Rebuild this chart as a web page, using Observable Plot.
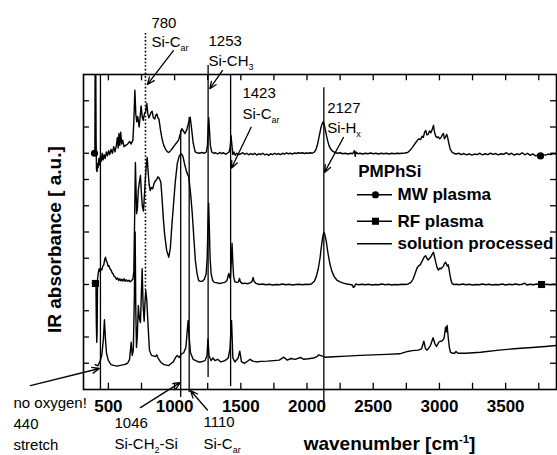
<!DOCTYPE html>
<html><head><meta charset="utf-8">
<script src="https://cdn.jsdelivr.net/npm/d3@7"></script>
<script src="https://cdn.jsdelivr.net/npm/@observablehq/plot@0.6"></script>
<style>body{margin:0;background:#fff}#chart svg{display:block}</style>
</head><body><div id="chart"></div>
<script>
// ---- data: [wavenumber (cm^-1), absorbance (a.u., offset)] ----
const mwPlasma = [[380,9.0],[395,9.0],[398,9.05],[400,12.8],[404,13.2],[407,9.6],[410,8.4],[414,8.3],[418,8.6],[422,8.45],[428,8.8],[434,8.55],[440,8.9],[447,8.7],[453,9.0],[460,8.75],[468,8.95],[476,8.8],[485,9.05],[493,8.9],[502,9.1],[510,8.95],[520,9.15],[530,9.0],[540,9.25],[550,9.05],[560,9.3],[568,9.6],[574,9.2],[580,9.75],[586,9.3],[593,9.8],[600,9.35],[608,9.5],[618,9.25],[630,9.3],[645,9.35],[660,9.45],[672,9.35],[685,9.5],[692,10.2],[700,11.4],[707,10.5],[714,10.2],[722,10.4],[732,10.0],[740,10.4],[747,10.8],[755,10.4],[763,10.25],[772,10.5],[782,10.6],[790,10.9],[798,10.5],[806,10.35],[814,10.45],[822,10.55],[830,10.6],[840,10.35],[850,10.3],[858,10.45],[866,10.5],[874,10.35],[882,10.3],[893,9.9],[905,9.55],[918,9.3],[932,9.15],[946,9.05],[956,9.03],[970,9.1],[985,9.2],[1000,9.3],[1015,9.4],[1030,9.5],[1044,9.75],[1055,9.94],[1066,9.85],[1078,9.75],[1092,9.9],[1105,10.15],[1118,10.37],[1128,9.95],[1140,9.4],[1155,9.05],[1170,9.02],[1185,9.0],[1205,9.03],[1225,9.0],[1240,9.05],[1248,9.3],[1254,10.0],[1258,10.35],[1263,9.9],[1270,9.3],[1280,9.05],[1295,9.0],[1310,9.02],[1325,8.97],[1340,9.03],[1355,8.99],[1370,9.02],[1385,8.96],[1400,9.01],[1412,9.05],[1420,9.25],[1426,9.68],[1432,9.35],[1440,8.95],[1448,9.05],[1458,8.92],[1470,9.0],[1485,8.95],[1500,8.98],[1515,9.02],[1530,8.96],[1545,9.0],[1560,8.94],[1575,8.99],[1590,8.95],[1605,9.0],[1620,8.93],[1635,8.98],[1650,8.95],[1665,9.0],[1680,8.94],[1695,8.97],[1710,8.92],[1725,8.98],[1740,8.95],[1755,9.0],[1770,8.96],[1785,8.99],[1800,8.95],[1815,9.0],[1830,8.97],[1845,9.01],[1860,8.98],[1875,9.0],[1890,8.97],[1905,9.01],[1920,8.99],[1935,9.02],[1950,9.0],[1965,9.02],[1980,8.99],[1995,9.01],[2010,9.0],[2025,9.02],[2040,9.0],[2055,9.04],[2068,9.15],[2080,9.35],[2092,9.65],[2104,9.95],[2114,10.12],[2122,10.2],[2130,10.1],[2140,9.85],[2152,9.55],[2165,9.3],[2180,9.15],[2195,9.07],[2210,9.03],[2230,9.0],[2250,9.02],[2270,8.98],[2290,9.0],[2310,8.97],[2330,9.0],[2345,8.98],[2358,9.1],[2364,8.88],[2370,9.05],[2385,8.98],[2400,9.0],[2420,8.97],[2440,9.0],[2460,8.98],[2480,9.01],[2500,8.98],[2520,9.0],[2540,8.97],[2560,9.0],[2580,8.98],[2600,9.0],[2620,8.97],[2640,9.0],[2660,8.98],[2680,9.0],[2700,8.99],[2720,9.0],[2740,9.01],[2760,9.03],[2780,9.12],[2800,9.25],[2820,9.4],[2835,9.5],[2845,9.55],[2858,9.52],[2868,9.65],[2878,9.6],[2888,9.8],[2897,9.87],[2905,9.7],[2915,9.72],[2925,9.85],[2935,9.78],[2945,9.9],[2955,10.06],[2963,9.8],[2972,9.65],[2982,9.6],[2992,9.62],[3002,9.55],[3012,9.6],[3022,9.7],[3030,9.75],[3038,9.55],[3046,9.62],[3055,9.72],[3062,9.6],[3072,9.35],[3082,9.15],[3095,9.04],[3107,9.0],[3125,8.97],[3145,9.0],[3165,8.95],[3185,8.99],[3205,8.94],[3225,8.98],[3245,8.93],[3265,8.97],[3285,8.95],[3305,9.0],[3325,8.94],[3345,8.98],[3365,8.95],[3385,9.0],[3405,8.96],[3425,8.99],[3445,8.94],[3465,8.98],[3485,8.96],[3505,9.02],[3525,8.95],[3545,9.0],[3565,8.93],[3585,8.98],[3605,8.95],[3625,9.02],[3645,8.94],[3665,9.0],[3685,8.92],[3705,8.98],[3725,8.9],[3745,8.93],[3763,8.9],[3780,8.95],[3800,8.93],[3820,8.97],[3840,8.95],[3860,8.99],[3885,8.97]];

const rfPlasma = [[380,4.05],[390,4.02],[397,4.06],[402,4.04],[406,4.1],[409,2.5],[412,1.8],[415,2.2],[418,4.2],[424,4.45],[430,4.6],[436,4.5],[442,4.6],[450,4.55],[458,4.7],[465,4.75],[472,4.95],[478,5.04],[484,4.9],[490,4.85],[497,4.7],[504,4.72],[512,4.6],[520,4.55],[528,4.45],[536,4.4],[545,4.3],[553,4.28],[561,4.2],[570,4.25],[578,4.15],[586,4.22],[594,4.14],[602,4.2],[610,4.13],[618,4.22],[626,4.12],[635,4.18],[645,4.12],[655,4.16],[665,4.1],[675,4.15],[685,4.2],[692,4.5],[698,6.5],[704,8.65],[709,7.6],[713,6.7],[719,6.9],[726,7.6],[734,7.9],[742,8.15],[749,7.5],[756,7.0],[765,6.8],[772,7.4],[780,8.1],[787,8.6],[793,8.84],[800,8.3],[808,7.8],[816,7.58],[825,7.7],[835,7.65],[845,7.85],[855,7.95],[865,8.0],[873,8.1],[880,8.08],[888,8.0],[896,7.9],[905,7.3],[915,6.5],[925,5.9],[940,5.3],[956,5.04],[968,5.4],[980,6.3],[994,7.2],[1005,7.9],[1020,8.6],[1035,8.9],[1050,8.98],[1062,8.9],[1075,8.6],[1090,8.3],[1107,8.09],[1120,7.5],[1132,6.8],[1145,5.8],[1157,4.9],[1170,4.4],[1182,4.15],[1195,4.12],[1210,4.12],[1225,4.2],[1238,4.4],[1246,5.0],[1252,6.3],[1257,7.1],[1262,6.2],[1268,5.0],[1276,4.4],[1288,4.15],[1300,4.08],[1320,4.06],[1340,4.04],[1360,4.06],[1380,4.08],[1395,4.15],[1405,4.35],[1410,4.42],[1416,4.25],[1422,4.3],[1428,4.9],[1434,5.56],[1440,4.8],[1446,4.3],[1455,4.1],[1470,4.08],[1482,4.1],[1490,4.23],[1497,4.1],[1510,4.04],[1530,4.05],[1550,4.03],[1570,4.06],[1585,4.12],[1593,4.27],[1600,4.12],[1615,4.04],[1640,4.0],[1665,4.02],[1690,3.99],[1715,4.01],[1740,3.98],[1765,4.0],[1790,3.99],[1815,4.02],[1840,3.99],[1865,4.01],[1890,3.98],[1915,4.0],[1940,4.01],[1965,3.99],[1990,4.01],[2015,4.0],[2035,4.03],[2055,4.12],[2070,4.3],[2085,4.6],[2098,5.0],[2110,5.5],[2120,5.85],[2127,5.99],[2135,5.9],[2145,5.65],[2158,5.2],[2172,4.8],[2188,4.5],[2205,4.3],[2225,4.17],[2250,4.1],[2275,4.05],[2300,4.02],[2325,4.0],[2342,3.98],[2350,3.89],[2358,3.92],[2368,4.02],[2390,3.99],[2415,4.01],[2440,3.99],[2465,4.01],[2490,3.98],[2515,4.0],[2540,3.99],[2565,4.02],[2590,3.99],[2615,4.01],[2640,3.98],[2665,4.0],[2690,3.99],[2715,4.01],[2740,4.0],[2765,4.02],[2785,4.08],[2800,4.2],[2815,4.4],[2830,4.62],[2844,4.72],[2855,4.75],[2865,4.85],[2875,4.95],[2885,5.05],[2895,5.1],[2905,5.0],[2915,4.93],[2925,5.0],[2935,5.05],[2945,5.15],[2955,5.23],[2963,5.05],[2972,4.85],[2982,4.65],[2992,4.55],[3002,4.62],[3012,4.6],[3021,4.65],[3030,4.7],[3038,4.8],[3046,4.85],[3053,4.78],[3060,4.7],[3066,4.75],[3072,4.6],[3080,4.35],[3088,4.15],[3096,4.03],[3110,4.0],[3130,4.01],[3150,3.99],[3175,4.02],[3200,3.99],[3225,4.01],[3250,3.98],[3275,4.0],[3300,3.99],[3325,4.02],[3350,3.99],[3375,4.01],[3400,3.98],[3425,4.0],[3450,3.99],[3475,4.02],[3500,3.98],[3525,4.01],[3550,3.99],[3575,4.02],[3600,3.99],[3625,4.01],[3645,4.05],[3660,3.98],[3685,4.01],[3710,3.99],[3735,4.02],[3760,4.0],[3785,3.99],[3810,4.01],[3835,3.99],[3860,4.01],[3885,4.0]];

const solutionProcessed = [[400,0.95],[420,0.9],[435,1.05],[450,1.3],[462,1.9],[470,2.66],[478,1.9],[486,1.37],[500,1.1],[520,0.95],[540,0.92],[565,0.89],[590,0.92],[620,0.95],[645,1.0],[660,1.15],[672,1.8],[680,1.3],[688,1.5],[696,3.5],[702,6.0],[707,3.0],[712,1.6],[718,2.0],[726,3.2],[734,2.7],[742,2.55],[750,3.8],[755,4.6],[762,3.2],[770,2.6],[776,3.3],[782,3.77],[790,3.4],[800,2.4],[810,1.5],[825,1.3],[840,1.28],[855,1.25],[865,1.32],[875,1.2],[895,1.04],[920,0.95],[956,0.91],[975,1.0],[990,1.05],[1005,1.2],[1019,1.3],[1035,1.22],[1050,1.35],[1069,1.4],[1085,1.6],[1095,2.2],[1102,2.63],[1110,2.0],[1120,1.4],[1140,1.15],[1160,1.1],[1180,1.05],[1200,1.05],[1230,1.1],[1245,1.3],[1252,1.93],[1260,1.3],[1275,1.1],[1290,1.2],[1305,1.1],[1325,1.15],[1350,1.05],[1380,1.1],[1405,1.2],[1418,1.55],[1430,2.63],[1440,1.2],[1455,1.05],[1480,1.2],[1492,1.46],[1505,1.05],[1530,1.0],[1570,1.15],[1590,1.08],[1620,1.05],[1650,1.07],[1700,1.08],[1750,1.1],[1790,1.12],[1825,1.23],[1850,1.12],[1880,1.18],[1910,1.15],[1951,1.22],[1975,1.15],[2010,1.17],[2050,1.2],[2075,1.25],[2089,1.32],[2110,1.28],[2140,1.23],[2200,1.25],[2300,1.27],[2400,1.3],[2500,1.32],[2600,1.34],[2700,1.36],[2760,1.45],[2794,1.48],[2840,1.5],[2865,1.55],[2882,1.84],[2895,1.55],[2907,1.5],[2930,1.65],[2952,1.97],[2965,1.75],[2978,1.64],[2995,1.8],[3008,1.84],[3020,1.85],[3035,1.95],[3046,2.37],[3052,2.2],[3058,2.44],[3066,2.0],[3075,1.6],[3083,1.42],[3100,1.38],[3115,1.38],[3125,1.45],[3140,1.38],[3200,1.38],[3310,1.42],[3450,1.5],[3562,1.55],[3700,1.6],[3800,1.64],[3889,1.68]];

const seriesNames = ["MW plasma", "RF plasma", "solution processed"];
const seriesSymbols = ["circle", "square", null];
const mwMarkers = [[395, 9.0], [3763, 8.9]];
const rfMarkers = [[402, 4.04], [3771, 4.0]];

const xTickLabels = [500, 1000, 1500, 2000, 2500, 3000, 3500];
const xTickMarks = [500, 750, 1000, 1250, 1500, 1750, 2000, 2250, 2500, 2750, 3000, 3250, 3500, 3750];
const yTickMarks = [1, 2, 3, 4, 5, 6, 7, 8, 9, 10, 11];

// band assignments (wavenumbers)
const bandWavenumbers = [440, 780, 1046, 1110, 1253, 1423, 2127];
const bandLabels = ["no oxygen!\n440\nstretch", "780\nSi-C_{ar}", "1046\nSi-CH_{2}-Si", "1110\nSi-C_{ar}", "1253\nSi-CH_{3}", "1423\nSi-C_{ar}", "2127\nSi-H_{x}"];

// ---- layout (positions in data units) ----
const xDomain = [312, 3884], yDomain = [0, 12];
const bandExtent = [[0, 12], [3.77, 13.56], [-0.3, 9.87], [-0.11, 10.36], [0.46, 12.34], [0.11, 12], [-0.8, 11.5]];
const labelPos = [[-217, -0.69], [825, 13.79], [546, -1.45], [1218, -1.42], [1256, 13.1], [1512, 11.09], [2152, 10.55]];
const labelLineStep = [0.8, 0.76, 0.8, 0.85, 0.76, 0.77, 0.76];
const arrowPos = [[-89, 0.15, 432, 0.8], [991, 12.91, 795, 11.62], [742, -0.69, 1044, 0.27], [1248, -0.78, 1120, -0.04], [1361, 12.15, 1266, 11.46], [1578, 9.99, 1429, 8.43], [2275, 9.6, 2132, 8.27]];
const legendTitlePos = [2386, 8.29];
const legendX = [2381, 2645, 2517, 2683];
const legendY = [7.42, 6.41, 5.55];

const rows = (pts) => pts.map(([x, y]) => ({x, y}));

const bandRules = bandWavenumbers.map((wn, i) => ({wn, y1: bandExtent[i][0], y2: bandExtent[i][1]}));
const labelRows = [];
bandLabels.forEach((lab, i) => {
  lab.split("\n").forEach((line, j) => labelRows.push({x: labelPos[i][0], y: labelPos[i][1] - j * labelLineStep[i], text: line}));
});
const arrowRows = arrowPos.map(([x1, y1, x2, y2]) => ({x1, y1, x2, y2}));
const legendRows = seriesNames.map((name, i) => ({name, sym: seriesSymbols[i], y: legendY[i]}));

const font = "'Liberation Sans', Arial, sans-serif";

const chart = Plot.plot({
  width: 557, height: 455,
  marginLeft: 83, marginRight: 1, marginTop: 74, marginBottom: 66,
  x: {domain: xDomain, axis: null, label: null},
  y: {domain: yDomain, axis: null, label: null},
  style: {fontFamily: font, background: "white", color: "black", overflow: "visible"},
  marks: [
    Plot.line(rows(mwPlasma), {x: "x", y: "y", stroke: "black", strokeWidth: 1.4, clip: true}),
    Plot.line(rows(rfPlasma), {x: "x", y: "y", stroke: "black", strokeWidth: 1.4, clip: true}),
    Plot.line(rows(solutionProcessed), {x: "x", y: "y", stroke: "black", strokeWidth: 1.4, clip: true}),
    Plot.dot(rows(mwMarkers), {x: "x", y: "y", r: 3.6, symbol: "circle", fill: "black"}),
    Plot.dot(rows(rfMarkers), {x: "x", y: "y", r: 4, symbol: "square", fill: "black"}),
    Plot.ruleX(bandRules.filter(d => d.wn !== 780), {x: "wn", y1: "y1", y2: "y2", stroke: "black", strokeWidth: 1.3}),
    Plot.ruleX(bandRules.filter(d => d.wn === 780), {x: "wn", y1: "y1", y2: "y2", stroke: "black", strokeWidth: 1.6, strokeDasharray: "1.6,2"}),
    Plot.frame({stroke: "black", strokeWidth: 1.6}),
    Plot.ruleX(xTickMarks, {x: d => d, y1: 0, y2: 0.24, stroke: "black", strokeWidth: 1.3}),
    Plot.ruleX(xTickMarks, {x: d => d, y1: 12, y2: 11.76, stroke: "black", strokeWidth: 1.3}),
    Plot.ruleY(yTickMarks, {y: d => d, x1: 312, x2: 357, stroke: "black", strokeWidth: 1.3}),
    Plot.ruleY(yTickMarks, {y: d => d, x1: 3884, x2: 3839, stroke: "black", strokeWidth: 1.3}),
    Plot.axisX(xTickLabels, {anchor: "bottom", tickSize: 0, tickPadding: 10, fontSize: 17, fontWeight: "bold", tickFormat: d => String(d), label: null}),
    Plot.text(labelRows, {x: "x", y: "y", text: "text", textAnchor: "start", lineAnchor: "bottom", fontSize: 15, fill: "black"}),
    Plot.arrow(arrowRows, {x1: "x1", y1: "y1", x2: "x2", y2: "y2", stroke: "black", strokeWidth: 1.3, headLength: 9, headAngle: 45}),
    Plot.text(["PMPhSi"], {x: legendTitlePos[0], y: legendTitlePos[1], text: d => d, textAnchor: "start", lineAnchor: "middle", fontSize: 17, fontWeight: "bold"}),
    Plot.ruleY(legendRows, {y: "y", x1: legendX[0], x2: legendX[1], stroke: "black", strokeWidth: 1.4}),
    Plot.dot(legendRows.filter(d => d.sym === "circle"), {x: legendX[2], y: "y", r: 3.6, symbol: "circle", fill: "black"}),
    Plot.dot(legendRows.filter(d => d.sym === "square"), {x: legendX[2], y: "y", r: 4, symbol: "square", fill: "black"}),
    Plot.text(legendRows, {x: legendX[3], y: "y", text: "name", textAnchor: "start", lineAnchor: "middle", fontSize: 17, fontWeight: "bold"}),
    Plot.text(["IR absorbance [ a.u.]"], {x: 145, y: 5.71, text: d => d, rotate: -90, textAnchor: "middle", lineAnchor: "bottom", fontSize: 19, fontWeight: "bold"}),
    Plot.text(["wavenumber [cm^{-1}]"], {x: 2623, y: -2.32, text: d => d, textAnchor: "middle", lineAnchor: "bottom", fontSize: 19, fontWeight: "bold"})
  ]
});

// rich text: _{sub} and ^{sup}
const SVGNS = "http://www.w3.org/2000/svg";
d3.select(chart).selectAll("text").each(function () {
  const t = this.textContent;
  if (!/[_^]\{/.test(t)) return;
  const parts = t.split(/([_^]\{[^}]*\})/).filter(p => p);
  this.textContent = "";
  let shift = 0;
  for (const p of parts) {
    const m = p.match(/^([_^])\{([^}]*)\}$/);
    const ts = document.createElementNS(SVGNS, "tspan");
    if (m) {
      const target = m[1] === "_" ? 4 : -7;
      ts.setAttribute("dy", target - shift);
      shift = target;
      ts.setAttribute("font-size", "0.6em");
      ts.textContent = m[2];
    } else {
      if (shift) ts.setAttribute("dy", -shift);
      shift = 0;
      ts.textContent = p;
    }
    this.appendChild(ts);
  }
});

document.getElementById("chart").appendChild(chart);
</script>
</body></html>
